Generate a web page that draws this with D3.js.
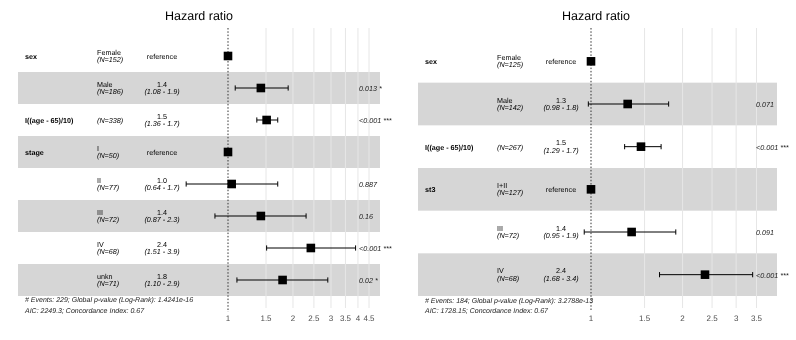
<!DOCTYPE html>
<html><head><meta charset="utf-8">
<script src="https://cdn.jsdelivr.net/npm/d3@7"></script>
<style>body{margin:0;background:#fff}svg{display:block;font-family:"Liberation Sans",Arial,Helvetica,sans-serif;filter:grayscale(1);text-rendering:geometricPrecision}</style>
</head><body><svg id="c" width="796" height="340"></svg>
<script>
// ---- Left model ----
const leftVariables = ["sex","","I((age - 65)/10)","stage","","","",""];
const leftLevels = ["Female","Male","","I","II","III","IV","unkn"];
const leftN = [152,186,338,50,77,72,68,71];
const leftHR = [1,1.42,1.51,1,1.04,1.42,2.42,1.79];
const leftLower = [null,1.08,1.36,null,0.64,0.87,1.51,1.10];
const leftUpper = [null,1.9,1.7,null,1.7,2.3,3.9,2.9];
const leftP = ["","0.013 *","<0.001 ***","","0.887","0.16","<0.001 ***","0.02 *"];
const leftTicks = [1,1.5,2,2.5,3,3.5,4,4.5];
const leftFooter = ["# Events: 229; Global p-value (Log-Rank): 1.4241e-16","AIC: 2249.3; Concordance Index: 0.67"];

// ---- Right model ----
const rightVariables = ["sex","","I((age - 65)/10)","st3","",""];
const rightLevels = ["Female","Male","","I+II","III","IV"];
const rightN = [125,142,267,127,72,68];
const rightHR = [1,1.32,1.46,1,1.36,2.37];
const rightLower = [null,0.98,1.29,null,0.95,1.68];
const rightUpper = [null,1.8,1.7,null,1.9,3.4];
const rightP = ["","0.071","<0.001 ***","","0.091","<0.001 ***"];
const rightTicks = [1,1.5,2,2.5,3,3.5];
const rightFooter = ["# Events: 184; Global p-value (Log-Rank): 3.2788e-13","AIC: 1728.15; Concordance Index: 0.67"];

const titleText = "Hazard ratio";

const svg = d3.select("#c");

function panel(cfg, vars, levels, ns, hr, lo, up, ps, ticks, footer){
  const g = svg.append("g");
  const rows = d3.range(vars.length);
  const y = d3.scaleBand().domain(rows).range([cfg.y0, cfg.y1]).padding(0);
  const x = d3.scaleLog().domain(cfg.hrDomain).range(cfg.hrRange);
  const cy = i => y(i) + y.bandwidth()/2;

  g.append("text").attr("x", cfg.titleX).attr("y", 20).attr("text-anchor","middle")
    .attr("font-size", 12.5).attr("fill","#000").text(titleText);

  g.selectAll("rect.band").data(rows.filter(i => i % 2 === 1)).join("rect")
    .attr("x", cfg.x0).attr("width", cfg.x1 - cfg.x0)
    .attr("y", i => y(i)).attr("height", y.bandwidth())
    .attr("fill", "#d6d6d6");

  g.selectAll("line.grid").data(ticks.filter(t => t !== 1)).join("line")
    .attr("x1", d => x(d)).attr("x2", d => x(d))
    .attr("y1", 28).attr("y2", cfg.gridBottom)
    .attr("stroke", "#e6e6e6").attr("stroke-width", 1);

  g.append("line").attr("x1", x(1)).attr("x2", x(1)).attr("y1", 28).attr("y2", cfg.dotBottom)
    .attr("stroke", "#333").attr("stroke-width", 1).attr("stroke-dasharray", "1.5,1.8");

  g.selectAll("text.tick").data(ticks).join("text")
    .attr("x", d => x(d)).attr("y", 321).attr("text-anchor","middle")
    .attr("font-size", 8).attr("fill", "#4d4d4d").text(d => d3.format("~g")(d));

  const fs = 7.2;
  g.selectAll("text.var").data(rows).join("text")
    .attr("x", cfg.varX).attr("y", i => cy(i) + 3).attr("font-size", fs).attr("font-weight","bold")
    .attr("fill","#000").text(i => vars[i]);

  rows.forEach(i => {
    if (levels[i]) {
      g.append("text").attr("x", cfg.levelX).attr("y", cy(i) - 1.5).attr("font-size", fs)
        .attr("fill","#000").text(levels[i]);
      g.append("text").attr("x", cfg.levelX).attr("y", cy(i) + 6).attr("font-size", fs)
        .attr("font-style","italic").attr("fill","#000").text("(N=" + ns[i] + ")");
    } else {
      g.append("text").attr("x", cfg.levelX).attr("y", cy(i) + 3).attr("font-size", fs)
        .attr("font-style","italic").attr("fill","#000").text("(N=" + ns[i] + ")");
    }
    if (lo[i] == null) {
      g.append("text").attr("x", cfg.estX).attr("y", cy(i) + 3).attr("text-anchor","middle")
        .attr("font-size", fs).attr("fill","#000").text("reference");
    } else {
      g.append("text").attr("x", cfg.estX).attr("y", cy(i) - 1.5).attr("text-anchor","middle")
        .attr("font-size", fs).attr("fill","#000").text(hr[i].toFixed(1));
      g.append("text").attr("x", cfg.estX).attr("y", cy(i) + 6).attr("text-anchor","middle")
        .attr("font-size", fs).attr("font-style","italic").attr("fill","#000")
        .text("(" + lo[i].toFixed(2) + " - " + up[i].toFixed(1) + ")");
      g.append("line").attr("x1", x(lo[i])).attr("x2", x(up[i])).attr("y1", cy(i)).attr("y2", cy(i))
        .attr("stroke","#000").attr("stroke-width",1);
      [lo[i], up[i]].forEach(v => {
        g.append("line").attr("x1", x(v)).attr("x2", x(v)).attr("y1", cy(i)-2.6).attr("y2", cy(i)+2.6)
          .attr("stroke","#000").attr("stroke-width",1);
      });
    }
    if (ps[i]) {
      g.append("text").attr("x", cfg.pX).attr("y", cy(i) + 3).attr("font-size", fs)
        .attr("font-style","italic").attr("fill","#222").text(ps[i]);
    }
    const s = 8.6;
    g.append("rect").attr("x", x(hr[i]) - s/2).attr("y", cy(i) - s/2).attr("width", s).attr("height", s)
      .attr("fill","#000");
  });

  g.selectAll("text.foot").data(footer).join("text")
    .attr("x", cfg.varX).attr("y", (d,i) => cfg.footerY[i]).attr("font-size", 7)
    .attr("font-style","italic").attr("fill","#222").text(d => d);
}

panel({x0:18, x1:380, y0:40, y1:296, varX:25, levelX:97, estX:162, pX:359,
       hrDomain:[1,4.5], hrRange:[228,369], titleX:199, gridBottom:308, dotBottom:312, footerY:[302,313]},
      leftVariables, leftLevels, leftN, leftHR, leftLower, leftUpper, leftP, leftTicks, leftFooter);

panel({x0:418, x1:777, y0:40, y1:296, varX:425, levelX:497, estX:561, pX:756,
       hrDomain:[1,3.5], hrRange:[591,756.5], titleX:596, gridBottom:308, dotBottom:310, footerY:[303,313]},
      rightVariables, rightLevels, rightN, rightHR, rightLower, rightUpper, rightP, rightTicks, rightFooter);
</script>
</body></html>
